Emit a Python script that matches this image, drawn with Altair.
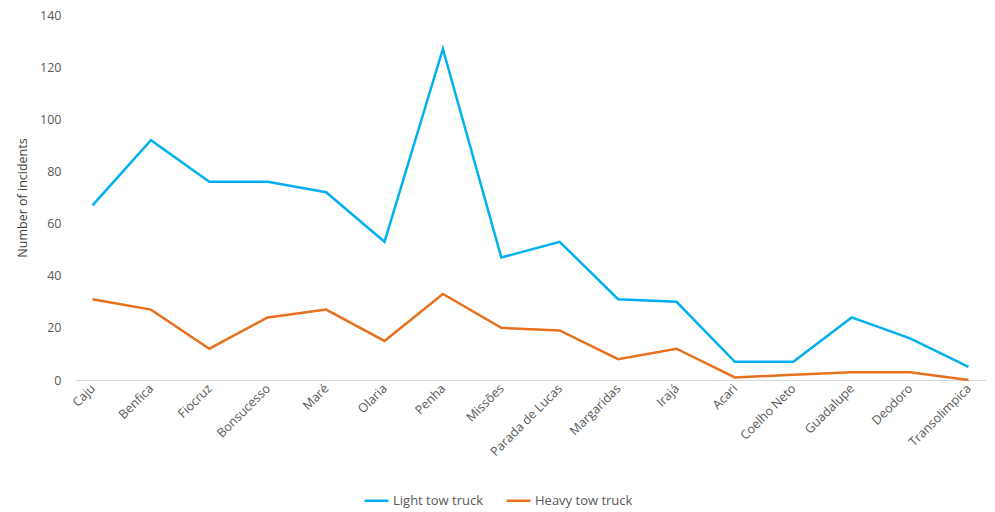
import altair as alt
import pandas as pd

stations = ["Caju", "Benfica", "Fiocruz", "Bonsucesso", "Maré", "Olaria", "Penha", "Missões",
            "Parada de Lucas", "Margaridas", "Irajá", "Acari", "Coelho Neto", "Guadalupe",
            "Deodoro", "Transolimpica"]
light = [67, 92, 76, 76, 72, 53, 127, 47, 53, 31, 30, 7, 7, 24, 16, 5]
heavy = [31, 27, 12, 24, 27, 15, 33, 20, 19, 8, 12, 1, 2, 3, 3, 0]
series = ["Light tow truck", "Heavy tow truck"]
colors = ["#00B0F0", "#E8701E"]

rows = []
for i, s in enumerate(stations):
    rows.append({"station": s, "series": series[0], "value": light[i], "order": i})
    rows.append({"station": s, "series": series[1], "value": heavy[i], "order": i})
df = pd.DataFrame(rows)

FONT = "Open Sans"

chart = alt.Chart(df).mark_line(strokeWidth=2.5).encode(
    x=alt.X("station:N", sort=stations,
            scale=alt.Scale(type="point", padding=0.3),
            axis=alt.Axis(title=None, labelAngle=-45, labelAlign="right", labelBaseline="middle",
                          labelPadding=6, ticks=False, domainColor="#D9D9D9", domainWidth=1,
                          labelFont=FONT, labelFontSize=12.5, labelColor="#595959", grid=False)),
    y=alt.Y("value:Q", scale=alt.Scale(domain=[0, 140], nice=False),
            axis=alt.Axis(title="Number of incidents", values=list(range(0, 141, 20)),
                          domain=False, ticks=False, grid=False, labelPadding=14,
                          labelFont=FONT, labelFontSize=12.5, labelColor="#595959",
                          titleFont=FONT, titleFontSize=12.5, titleFontWeight="normal",
                          titleColor="#404040", titlePadding=10)),
    color=alt.Color("series:N", sort=series,
                    scale=alt.Scale(domain=series, range=colors),
                    legend=alt.Legend(title=None, orient="none", direction="horizontal",
                                      legendX=288, legendY=472, symbolType="stroke",
                                      symbolSize=576, symbolStrokeWidth=2.5,
                                      labelFont=FONT, labelFontSize=13, labelColor="#595959",
                                      columnPadding=18, labelOffset=3)),
    order="order:Q",
).properties(
    width=911, height=365,
    autosize=alt.AutoSizeParams(type="none"),
    padding={"left": 67, "top": 7, "right": 0, "bottom": 130},
).configure(background="white").configure_view(stroke=None)

chart.save("out.html", embed_options={"renderer": "svg", "actions": False})
